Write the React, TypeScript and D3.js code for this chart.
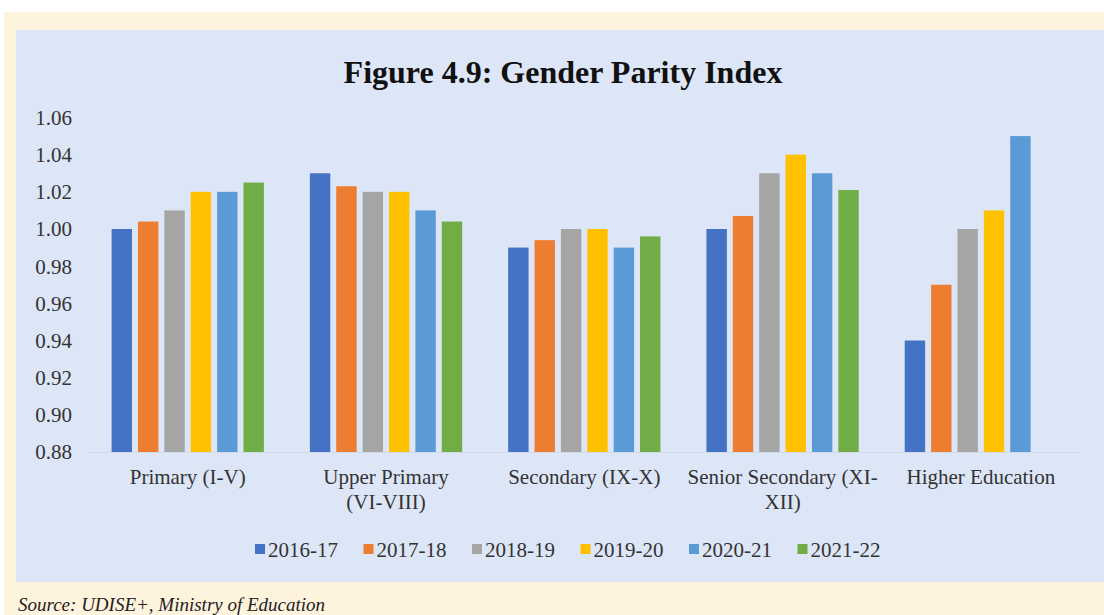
import React from "react";
import * as d3 from "d3";

const categories = [
  "Primary (I-V)",
  "Upper Primary (VI-VIII)",
  "Secondary (IX-X)",
  "Senior Secondary (XI-XII)",
  "Higher Education",
];
const categoryLines = [
  ["Primary (I-V)"],
  ["Upper Primary", "(VI-VIII)"],
  ["Secondary (IX-X)"],
  ["Senior Secondary (XI-", "XII)"],
  ["Higher Education"],
];
const years = ["2016-17", "2017-18", "2018-19", "2019-20", "2020-21", "2021-22"];
const colors = ["#4472C4", "#ED7D31", "#A5A5A5", "#FFC000", "#5B9BD5", "#70AD47"];

const v2016 = [1.0, 1.03, 0.99, 1.0, 0.94];
const v2017 = [1.004, 1.023, 0.994, 1.007, 0.97];
const v2018 = [1.01, 1.02, 1.0, 1.03, 1.0];
const v2019 = [1.02, 1.02, 1.0, 1.04, 1.01];
const v2020 = [1.02, 1.01, 0.99, 1.03, 1.05];
const v2021: (number | null)[] = [1.025, 1.004, 0.996, 1.021, null];
const seriesValues = [v2016, v2017, v2018, v2019, v2020, v2021];

const yTicks = [0.88, 0.9, 0.92, 0.94, 0.96, 0.98, 1.0, 1.02, 1.04, 1.06];

const W = 1104;
const H = 615;
const FONT = "'Liberation Serif', 'Times New Roman', serif";

export default function App() {
  const x0 = d3
    .scaleBand<string>()
    .domain(categories)
    .range([88.6, 1080])
    .paddingInner(0.232)
    .paddingOuter(0.116);
  const x1 = d3
    .scaleBand<string>()
    .domain(years)
    .range([0, x0.bandwidth()])
    .paddingInner(0.226)
    .paddingOuter(0);
  const y = d3.scaleLinear().domain([0.88, 1.06]).range([452, 117.5]);

  return (
    <svg
      width={W}
      height={H}
      style={{ position: "absolute", left: 0, top: 0, display: "block" }}
    >
      <rect x={0} y={0} width={W} height={H} fill="#ffffff" />
      <rect x={4} y={12} width={W - 4} height={H - 12} fill="#fef3dc" />
      <rect x={16} y={30} width={W - 16} height={552} fill="#dde6f7" />

      <text
        x={563}
        y={83}
        textAnchor="middle"
        fontFamily={FONT}
        fontWeight="bold"
        fontSize={32}
        fill="#111"
      >
        Figure 4.9: Gender Parity Index
      </text>

      {yTicks.map((t) => (
        <text
          key={t}
          x={72}
          y={y(t)}
          dy="0.35em"
          textAnchor="end"
          fontFamily={FONT}
          fontSize={21}
          fill="#333"
        >
          {t.toFixed(2)}
        </text>
      ))}

      <line x1={88.6} x2={1080} y1={452.5} y2={452.5} stroke="#d3dbe8" strokeWidth={1} />

      {categories.map((c, ci) => (
        <g key={c} transform={`translate(${x0(c)},0)`}>
          {years.map((yr, si) => {
            const v = seriesValues[si][ci];
            if (v == null) return null;
            return (
              <rect
                key={yr}
                x={x1(yr)}
                y={y(v)}
                width={x1.bandwidth()}
                height={y(0.88) - y(v)}
                fill={colors[si]}
              />
            );
          })}
        </g>
      ))}

      {categories.map((c, ci) => (
        <text
          key={c}
          x={(x0(c) as number) + x0.bandwidth() / 2}
          y={484}
          textAnchor="middle"
          fontFamily={FONT}
          fontSize={21}
          fill="#333"
        >
          {categoryLines[ci].map((ln, li) => (
            <tspan key={li} x={(x0(c) as number) + x0.bandwidth() / 2} dy={li === 0 ? 0 : 25}>
              {ln}
            </tspan>
          ))}
        </text>
      ))}

      {years.map((yr, i) => (
        <g key={yr} transform={`translate(${255 + i * 108.5},0)`}>
          <rect x={0} y={544} width={10} height={10} fill={colors[i]} />
          <text x={13} y={557} fontFamily={FONT} fontSize={21} fill="#333">
            {yr}
          </text>
        </g>
      ))}

      <text
        x={18}
        y={611}
        fontFamily={FONT}
        fontStyle="italic"
        fontSize={19}
        fill="#222"
      >
        Source: UDISE+, Ministry of Education
      </text>
    </svg>
  );
}
